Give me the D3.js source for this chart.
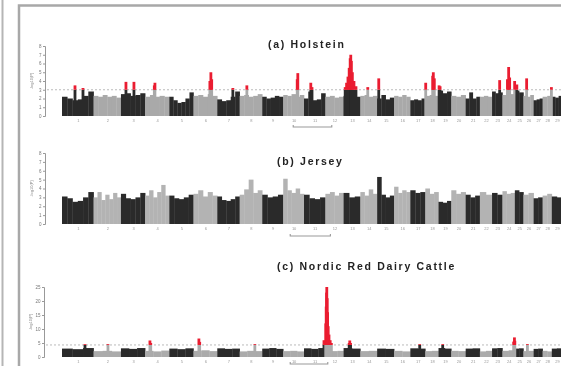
<!DOCTYPE html>
<html>
<head>
<meta charset="utf-8">
<script src="https://cdn.jsdelivr.net/npm/d3@7/dist/d3.min.js"></script>
<style>
  body { margin: 0; background: #fff; }
  svg { display: block; }
</style>
</head>
<body>
<div id="chart"></div>
<script>
// chromosome names and lengths (Mb)
const chromNames = d3.range(1, 30).map(String);
const chromLengths = [158, 137, 121, 121, 121, 119, 112, 113, 105, 104, 107, 91, 84, 84, 85,
                      81, 75, 66, 64, 72, 71, 61, 52, 62, 43, 51, 45, 46, 51];

// envelope of the SNP cloud, read per chromosome (-log10 P)
const holsteinLevels = [
  [2.2, 2.0, 1.8, 1.9, 2.3, 2.8], [2.3, 2.2, 2.4, 2.2, 2.3, 2.1], [2.5, 2.6, 2.3, 2.4, 2.6],
  [2.2, 2.4, 2.2, 2.3, 2.2], [2.2, 1.8, 1.5, 1.6, 2.0, 2.7], [2.3, 2.4, 2.2, 2.5, 2.3],
  [1.9, 1.7, 1.8, 2.2, 2.8], [2.3, 2.4, 2.2, 2.3, 2.5], [2.2, 2.0, 2.1, 2.3, 2.2],
  [2.4, 2.3, 2.5, 2.2, 2.4], [2.0, 2.8, 1.8, 1.9, 2.6], [2.2, 2.3, 2.1, 2.2],
  [2.3, 2.6, 2.4, 2.2], [2.3, 2.4, 2.2, 2.3], [2.0, 2.4, 1.9, 2.1], [2.3, 2.2, 2.4, 2.2],
  [1.8, 1.9, 1.8, 2.0], [2.3, 2.4, 2.3], [2.9, 2.6, 2.8], [2.3, 2.2, 2.4], [2.0, 2.7, 2.0, 2.2],
  [2.2, 2.3, 2.2], [2.8, 2.6, 2.7], [2.4, 2.3, 2.5], [2.9, 2.7], [2.3, 2.2, 2.4],
  [1.8, 1.9, 2.0], [2.2, 2.3], [2.2, 2.1, 2.3]
];
const jerseyLevels = [
  [3.1, 2.9, 2.5, 2.6, 3.0, 3.6], [3.0, 3.6, 2.7, 3.3, 2.8, 3.5, 3.0], [3.4, 2.9, 2.8, 3.0, 3.5],
  [3.2, 3.8, 3.0, 3.6, 4.4, 3.2], [3.2, 2.9, 2.8, 3.0, 3.3], [3.4, 3.8, 3.1, 3.6, 3.2],
  [3.1, 2.7, 2.6, 2.8, 3.1], [3.3, 3.9, 5.0, 3.5, 3.8], [3.3, 3.0, 3.1, 3.3],
  [5.1, 3.8, 3.5, 4.0, 3.4], [3.3, 2.9, 2.8, 3.0], [3.4, 3.6, 3.2, 3.5], [3.5, 3.0, 3.1],
  [3.6, 3.2, 3.9, 3.4], [5.3, 3.3, 3.0, 3.2], [4.2, 3.5, 3.8, 3.6], [3.8, 3.5, 3.6],
  [4.0, 3.4, 3.6], [2.5, 2.4, 2.6], [3.8, 3.4, 3.6], [3.3, 3.0, 3.2], [3.6, 3.3],
  [3.5, 3.3], [3.7, 3.4, 3.5], [3.8, 3.6], [3.3, 3.5], [2.9, 3.0], [3.2, 3.4], [3.1, 3.0]
];
const nrdcLevels = [
  [3.0, 2.8, 3.2], [2.1, 2.2, 2.0], [3.1, 2.9, 3.2], [2.2, 2.0, 2.3], [3.0, 2.8, 3.1],
  [2.2, 2.4, 2.1], [3.1, 2.9, 3.0], [2.0, 2.2, 2.1], [3.0, 3.2, 2.9], [2.1, 2.2, 2.0],
  [3.1, 2.9, 3.2], [2.3, 2.1, 2.2], [3.2, 3.0], [2.1, 2.2], [3.0, 2.9], [2.2, 2.0],
  [3.1, 3.0], [2.1, 2.2], [3.2, 3.0], [2.2, 2.1], [3.0, 3.1], [2.0, 2.2], [3.1, 3.2],
  [2.2, 2.4], [3.0, 3.1], [2.1, 2.2], [2.9, 3.0], [2.2, 2.0], [3.0, 3.1]
];

// SNPs above the threshold: [chromosome, position Mb, -log10 P]
const holsteinPeaks = [
  [1, 65, 3.5], [1, 105, 3.2], [3, 25, 3.9], [3, 65, 3.9], [4, 46, 3.5], [4, 49, 3.8],
  [6, 82, 4.0], [6, 87, 5.0], [6, 91, 4.2], [7, 78, 3.2], [8, 36, 3.5], [10, 70, 4.2],
  [10, 73, 4.9], [11, 34, 3.8], [11, 40, 3.3],
  [13, 8, 3.3], [13, 15, 3.8], [13, 22, 4.5], [13, 28, 5.5], [13, 33, 6.6], [13, 36, 7.0],
  [13, 39, 6.3], [13, 44, 5.0], [13, 52, 4.0], [13, 62, 3.4],
  [14, 37, 3.3], [15, 8, 4.3], [18, 2, 3.8], [18, 37, 4.6], [18, 40, 5.0], [18, 45, 4.3],
  [19, 3, 3.5], [19, 8, 3.4], [23, 38, 4.1], [24, 25, 4.2], [24, 31, 5.6], [24, 36, 4.4],
  [24, 61, 4.0], [25, 10, 3.6], [26, 16, 4.3], [28, 44, 3.3]
];
const jerseyPeaks = [];
const nrdcPeaks = [
  [1, 115, 4.6], [2, 72, 4.6], [4, 24, 5.9], [4, 28, 5.0], [6, 27, 6.6], [6, 31, 5.4],
  [8, 76, 4.6], [11, 100, 6], [12, 2, 12], [12, 4, 18], [12, 6, 23], [12, 7, 25],
  [12, 9, 21], [12, 11, 16], [12, 14, 11], [12, 18, 8], [12, 24, 6], [12, 30, 5],
  [13, 28, 5.0], [13, 31, 5.9], [13, 35, 5.0], [17, 47, 4.6], [19, 21, 4.6],
  [24, 56, 5.5], [24, 60, 7.0], [24, 62, 5.8], [26, 20, 4.6]
];

const panelTitles = ["(a) Holstein", "(b) Jersey", "(c) Nordic Red Dairy Cattle"];
const holsteinTicks = [0, 1, 2, 3, 4, 5, 6, 7, 8];
const jerseyTicks = [0, 1, 2, 3, 4, 5, 6, 7, 8];
const nrdcTicks = [0, 5, 10, 15, 20, 25];
const thresholds = [3, null, 4.3];
// highlighted region under each panel: [chr, Mb] to [chr, Mb]
const brackets = [[[10, 50], [12, 32]], [[10, 35], [12, 25]], [[10, 35], [12, 12]]];

const width = 561, height = 366;
const svg = d3.select("#chart").append("svg")
  .attr("width", width)
  .attr("height", height)
  .style("font-family", "'Liberation Sans', Arial, sans-serif");

svg.append("defs").append("filter").attr("id", "soft")
  .append("feGaussianBlur").attr("stdDeviation", 0.7);

const root = svg.append("g").attr("filter", "url(#soft)");

// frame of the figure
root.append("line")
  .attr("x1", 2.5).attr("x2", 2.5).attr("y1", 0).attr("y2", height)
  .attr("stroke", "#b5b5b5").attr("stroke-width", 2);
root.append("rect")
  .attr("x", 19).attr("y", 5.5).attr("width", 600).attr("height", 420)
  .attr("fill", "none").attr("stroke", "#a8a8a8").attr("stroke-width", 2.5);

const offsets = [0, ...d3.cumsum(chromLengths)];
const total = offsets[offsets.length - 1];
const x = d3.scaleLinear().domain([0, total]).range([62, 562]);
const gpos = (c, p) => offsets[c - 1] + p;

const panels = [
  { title: panelTitles[0], tx: 268, ty: 48, top: 46, base: 116, max: 8, ticks: holsteinTicks,
    levels: holsteinLevels, peaks: holsteinPeaks, thr: thresholds[0], axisX: 45, gray: "#a9a9a9", bracketY: 127 },
  { title: panelTitles[1], tx: 277, ty: 165, top: 153, base: 224, max: 8, ticks: jerseyTicks,
    levels: jerseyLevels, peaks: jerseyPeaks, thr: thresholds[1], axisX: 45, gray: "#b3b3b3", bracketY: 236 },
  { title: panelTitles[2], tx: 277, ty: 270, top: 287, base: 357, max: 25, ticks: nrdcTicks,
    levels: nrdcLevels, peaks: nrdcPeaks, thr: thresholds[2], axisX: 44, gray: "#ababab", bracketY: 364 }
];

panels.forEach((p, k) => {
  const g = root.append("g");
  const y = d3.scaleLinear().domain([0, p.max]).range([p.base, p.top]);
  const colorOf = c => (c % 2 === 1 ? "#2a2a2a" : p.gray);

  g.append("text")
    .attr("x", p.tx).attr("y", p.ty)
    .attr("font-size", 10.5).attr("font-weight", "bold")
    .attr("letter-spacing", 1.7).attr("fill", "#222")
    .text(p.title);

  // y axis
  const ya = g.append("g")
    .attr("transform", `translate(${p.axisX},0)`)
    .call(d3.axisLeft(y).tickValues(p.ticks).tickSize(2).tickPadding(1.5));
  ya.select(".domain").attr("stroke", "#999");
  ya.selectAll(".tick line").attr("stroke", "#999");
  ya.selectAll("text").attr("font-size", 4.5).attr("fill", "#777");

  g.append("text")
    .attr("transform", `translate(${p.axisX - 12},${(p.top + p.base) / 2}) rotate(-90)`)
    .attr("text-anchor", "middle")
    .attr("font-size", 4).attr("fill", "#888")
    .text("-log10(P)");

  // threshold
  if (p.thr != null) {
    g.append("line")
      .attr("x1", p.axisX + 2).attr("x2", 565)
      .attr("y1", y(p.thr)).attr("y2", y(p.thr))
      .attr("stroke", "#aaa").attr("stroke-width", 0.8)
      .attr("stroke-dasharray", "2,2");
  }

  // SNP clouds per chromosome
  const cells = [];
  p.levels.forEach((vals, i) => {
    const step = chromLengths[i] / vals.length;
    vals.forEach((v, j) => cells.push({ c: i + 1, a: offsets[i] + j * step, b: offsets[i] + (j + 1) * step, v }));
  });
  g.append("g").selectAll("rect")
    .data(cells).join("rect")
    .attr("x", d => x(d.a))
    .attr("width", d => x(d.b) - x(d.a) + 0.3)
    .attr("y", d => y(d.v))
    .attr("height", d => y(0) - y(d.v))
    .attr("fill", d => colorOf(d.c));

  // columns under the significant SNPs, then the red part above the threshold
  if (p.thr != null) {
    g.append("g").selectAll("rect")
      .data(p.peaks).join("rect")
      .attr("x", d => x(gpos(d[0], d[1])) - 1.4)
      .attr("width", 2.8)
      .attr("y", y(p.thr))
      .attr("height", y(0) - y(p.thr))
      .attr("fill", d => colorOf(d[0]));
    g.append("g").selectAll("rect")
      .data(p.peaks).join("rect")
      .attr("x", d => x(gpos(d[0], d[1])) - 1.4)
      .attr("width", 2.8)
      .attr("y", d => y(d[2]))
      .attr("height", d => y(p.thr) - y(d[2]))
      .attr("fill", "#ea1f30");
  }

  // chromosome labels
  const xa = g.append("g")
    .attr("transform", `translate(0,${p.base + 1})`)
    .call(d3.axisBottom(x)
      .tickValues(chromNames.map((n, i) => offsets[i] + chromLengths[i] / 2))
      .tickFormat((d, i) => chromNames[i])
      .tickSize(0).tickPadding(2));
  xa.select(".domain").remove();
  xa.selectAll("text").attr("font-size", 4).attr("fill", "#999");

  // bracket under the highlighted region
  const [from, to] = brackets[k];
  const bx0 = x(gpos(from[0], from[1])), bx1 = x(gpos(to[0], to[1]));
  g.append("path")
    .attr("d", `M${bx0},${p.bracketY - 2}V${p.bracketY}H${bx1}V${p.bracketY - 2}`)
    .attr("fill", "none").attr("stroke", "#999").attr("stroke-width", 1.1);
});
</script>
</body>
</html>
